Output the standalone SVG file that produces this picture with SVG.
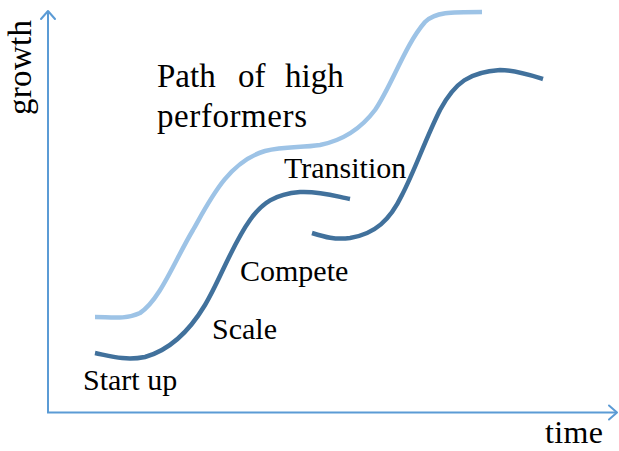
<svg xmlns="http://www.w3.org/2000/svg" width="619" height="451" viewBox="0 0 619 451">
<defs>
<style>
.axis{stroke:#5B9BD5;stroke-width:2;fill:none}
.head{stroke:#5B9BD5;stroke-width:2;fill:none;stroke-linecap:round;stroke-linejoin:round}
.light{stroke:#9DC3E6;stroke-width:4.5;fill:none}
.dark{stroke:#41719C;stroke-width:4.5;fill:none}
text{font-family:"Liberation Serif","Times New Roman",serif;fill:#000}
.lbl{font-size:30px}
.big{font-size:33px}
</style>
</defs>
<rect width="619" height="451" fill="#fff"/>
<g id="connectors">
<g id="y-axis">
<line class="axis" x1="48" y1="11" x2="48" y2="413"/>
<polyline class="head" points="41,19 48,11 55,19"/>
</g>
<g id="x-axis">
<line class="axis" x1="47" y1="412.5" x2="616" y2="412.5"/>
<polyline class="head" points="609,405.5 617,412.5 609,419.5"/>
</g>
</g>
<g id="curves">
<path id="high-performers-curve" class="light" d="M95,317 C110,317 125,320 140,313 C160,300 175,260 193,230 C210,200 228,162 265,151 C285,146 300,148 320,145 C340,141 360,130 375,110 C392,85 405,45 425,22 C435,12 450,12 482,12"/>
<path id="curve-1" class="dark" d="M95,353 C110,356 125,361 145,357 C170,350 190,330 205,305 C220,280 232,245 250,220 C262,203 275,194 300,192 C320,191 335,196 350,199"/>
<path id="curve-2" class="dark" d="M312,233 C325,237 335,240 350,238 C375,234 390,220 402,195 C415,170 425,140 440,110 C455,82 470,72 500,70 C515,70 530,75 543,79"/>
</g>
<g id="labels">
<text id="growth" class="big" transform="translate(31,115) rotate(-90)" textLength="95">growth</text>
<text id="time" x="545" y="443" style="font-size:32px" textLength="58">time</text>
<text id="path-label" class="big"><tspan x="157" y="87">Path</tspan><tspan x="238" y="87">of</tspan><tspan x="285" y="87">high</tspan><tspan x="157" y="127" textLength="150">performers</tspan></text>
<text id="transition" class="lbl" x="284" y="178">Transition</text>
<text id="compete" class="lbl" x="240" y="281">Compete</text>
<text id="scale" class="lbl" x="212" y="339">Scale</text>
<text id="startup" class="lbl" x="83" y="390">Start up</text>
</g>
</svg>
